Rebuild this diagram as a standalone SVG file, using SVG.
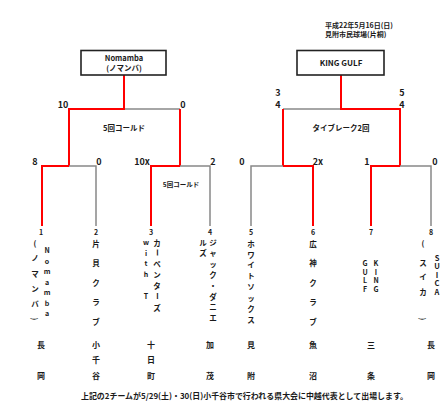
<svg xmlns="http://www.w3.org/2000/svg" width="448" height="401" viewBox="0 0 448 401">
<style>
.t{font-family:"Noto Sans CJK JP","Noto Sans",sans-serif;font-weight:bold;fill:#1a1a1a;text-anchor:middle;dominant-baseline:central}
.f6{font-size:6.5px}.f7{font-size:7px}.f75{font-size:7.5px}.f8{font-size:8px}.f9{font-size:9px}
.l{text-anchor:start}
.box{fill:#fff;stroke:#222;stroke-width:1.6}
.r{fill:none;stroke:#ff0000;stroke-width:2}
.g{fill:none;stroke:#888;stroke-width:1.5}
</style>
<rect width="448" height="401" fill="#fff"/>
<g id="connectors">
<path class="g" d="M124,109H180"/>
<path class="r" d="M124,75V109H69V166"/>
<path class="r" d="M180,109V166"/>
<path class="g" d="M69,166H96V226"/>
<path class="r" d="M69,166H42V226"/>
<path class="g" d="M180,166H210V226"/>
<path class="r" d="M180,166H151V226"/>
<path class="g" d="M341,109H283"/>
<path class="r" d="M341,75V109H400V166"/>
<path class="r" d="M283,109V166"/>
<path class="g" d="M283,166H251V226"/>
<path class="r" d="M283,166H313V226"/>
<path class="g" d="M400,166H431V226"/>
<path class="r" d="M400,166H371V226"/>
</g>
<g id="info">
<text class="t f7 l" x="325" y="25">平成22年5月16日(日)</text>
<text class="t f7 l" x="325" y="34">見附市民球場(片桐)</text>
</g>
<g id="winner-left">
<rect class="box" x="81" y="50.5" width="85" height="24.5"/>
<text class="t f75" x="124" y="57.5">Nomamba</text>
<text class="t f75" x="124" y="67.5">(ノマンバ)</text>
</g>
<g id="winner-right">
<rect class="box" x="297" y="50.5" width="87" height="24.5"/>
<text class="t f8" x="341" y="62.5">KING GULF</text>
</g>
<g id="scores">
<text class="t f9" x="63" y="104">10</text>
<text class="t f9" x="183" y="104">0</text>
<text class="t f75" x="124" y="127">5回コールド</text>
<text class="t f9" x="35" y="161">8</text>
<text class="t f9" x="99" y="161">0</text>
<text class="t f9" x="142" y="161">10x</text>
<text class="t f9" x="213" y="161">2</text>
<text class="t f6" x="181" y="184">5回コールド</text>
<text class="t f9" x="278" y="92">3</text>
<text class="t f9" x="278" y="104">4</text>
<text class="t f9" x="402" y="92">5</text>
<text class="t f9" x="402" y="104">4</text>
<text class="t f75" x="341" y="127">タイブレーク2回</text>
<text class="t f9" x="242" y="161">0</text>
<text class="t f9" x="318" y="161">2x</text>
<text class="t f9" x="367" y="161">1</text>
<text class="t f9" x="435" y="161">0</text>
</g>
<g id="team1">
<text class="t f7" x="41" y="232">1</text>
<text class="t f75" x="35 35 35 35 35" y="242 257.5 273 288 303">(ノマンバ</text>
<text class="t f75" x="35" y="319" transform="rotate(90 35 319)">)</text>
<text class="t f7" x="47 47 47 47 47 47 47" y="250 260.5 271 281.5 292 302.5 313">Nomamba</text>
<text class="t f8" x="41 41" y="344 375">長岡</text>
</g>
<g id="team2">
<text class="t f7" x="96" y="232">2</text>
<text class="t f75" x="96 96 96 96 96" y="243 262.5 282 301.5 321">片貝クラブ</text>
<text class="t f8" x="96 96 96" y="344 359.5 375">小千谷</text>
</g>
<g id="team3">
<text class="t f7" x="151" y="232">3</text>
<text class="t f75" x="157 157 157 157 157" y="242 263 274 285 307">カペンタズ</text>
<text class="t f75" x="157" y="252.5" transform="rotate(90 157 252.5)">ー</text>
<text class="t f75" x="157" y="296" transform="rotate(90 157 296)">ー</text>
<text class="t f7" x="146 146 146 146 146 146" y="242 252.5 263 274 285 296">with T</text>
<text class="t f8" x="151 151 151" y="344 359.5 375">十日町</text>
</g>
<g id="team4">
<text class="t f7" x="210" y="232">4</text>
<text class="t f75" x="213 213 213 213 213 213 213 213" y="242 252.5 263 274 285 296 306 317">ジャック・ダニエ</text>
<text class="t f75" x="203 203" y="242 252.5">ルズ</text>
<text class="t f8" x="210 210" y="344 375">加茂</text>
</g>
<g id="team5">
<text class="t f7" x="251" y="232">5</text>
<text class="t f75" x="251 251 251 251 251 251 251 251" y="243 254 264.5 275 286 297 308 319">ホワイトソックス</text>
<text class="t f8" x="251 251" y="344 375">見附</text>
</g>
<g id="team6">
<text class="t f7" x="313" y="232">6</text>
<text class="t f75" x="313 313 313 313 313" y="243 262.5 282 301.5 321">広神クラブ</text>
<text class="t f8" x="313 313" y="344 375">魚沼</text>
</g>
<g id="team7">
<text class="t f7" x="371" y="232">7</text>
<text class="t f7" x="376 376 376 376" y="263 271.5 280 288.5">KING</text>
<text class="t f7" x="365 365 365 365" y="263 271.5 280 288.5">GULF</text>
<text class="t f8" x="371 371" y="344 375">三条</text>
</g>
<g id="team8">
<text class="t f7" x="431" y="232">8</text>
<text class="t f75" x="423 423 423 423" y="242 262 276 291">(スイカ</text>
<text class="t f75" x="423" y="319" transform="rotate(90 423 319)">)</text>
<text class="t f75" x="437 437 437 437 437" y="257 265.5 274 282.5 291">SUICA</text>
<text class="t f8" x="431 431" y="344 375">長岡</text>
</g>
<g id="note">
<text class="t f8 l" x="81" y="395" textLength="327" lengthAdjust="spacingAndGlyphs">上記の2チームが5/29(土)・30(日)小千谷市で行われる県大会に中越代表として出場します。</text>
</g>
</svg>
